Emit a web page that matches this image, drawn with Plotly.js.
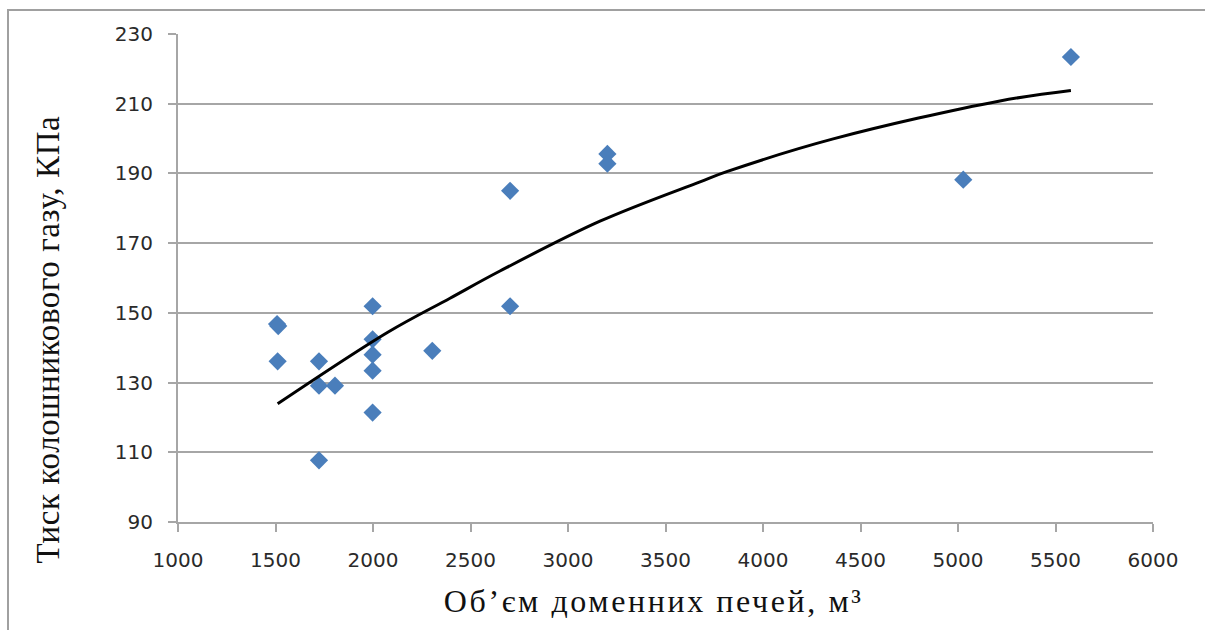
<!DOCTYPE html>
<html>
<head>
<meta charset="utf-8">
<script src="https://cdn.plot.ly/plotly-3.0.1.min.js"></script>
<style>
html,body{margin:0;padding:0;background:#fff;overflow:hidden;}
#frame{position:absolute;left:7px;top:9px;width:1400px;height:900px;border:2px solid #a0a0a0;}
#chart{position:absolute;left:0;top:0;width:1205px;height:630px;}
</style>
</head>
<body>
<div id="frame"></div>
<div id="chart"></div>
<script>
// Furnace volume, m3
const volume = [1508, 1514, 1511, 1723, 1723, 1723, 1805, 1998, 1998, 1998, 1998, 1998, 2304, 2703, 2703, 3202, 3202, 5027, 5579];
// Top gas pressure, kPa
const pressure = [146.8, 146.2, 136.1, 136.1, 129.1, 107.7, 129.1, 151.9, 142.4, 138.0, 133.4, 121.4, 139.1, 185.0, 151.9, 195.6, 192.8, 188.2, 223.4];

// Polynomial trendline
const trendX = [1511, 2078, 2395, 2651, 3164, 3677, 3814, 4360, 5215, 5579];
const trendY = [123.9, 144.5, 154.2, 162.0, 176.3, 187.6, 190.5, 199.9, 210.8, 213.8];

const xTicks = [1000, 1500, 2000, 2500, 3000, 3500, 4000, 4500, 5000, 5500, 6000];
const yTicks = [90, 110, 130, 150, 170, 190, 210, 230];

const xTitle = 'Об’єм доменних печей, м³';
const yTitle = 'Тиск колошникового газу, КПа';

const traces = [
  {x: volume, y: pressure, type: 'scatter', mode: 'markers',
   marker: {symbol: 'diamond', size: 14, color: '#4a7ebb', line: {width: 0}}, hoverinfo: 'x+y'},
  {x: trendX, y: trendY, type: 'scatter', mode: 'lines',
   line: {color: '#000', width: 3, shape: 'spline', smoothing: 1}, hoverinfo: 'skip'}
];

const L = 178, R = 52, T = 34, B = 108, W = 1205, H = 630;
const pw = W - L - R, ph = H - T - B;
const px2paperX = p => (p - L) / pw;
const px2paperY = p => (H - B - p) / ph;

const layout = {
  width: W, height: H,
  margin: {l: L, r: R, t: T, b: B, pad: 0},
  paper_bgcolor: 'rgba(0,0,0,0)', plot_bgcolor: 'rgba(0,0,0,0)',
  showlegend: false,
  xaxis: {
    range: [1000, 6000], tickvals: xTicks, ticktext: xTicks.map(String),
    showgrid: false, zeroline: false,
    showline: true, linecolor: '#a6a6a6', linewidth: 2,
    ticks: 'outside', ticklen: 8, tickwidth: 2, tickcolor: '#a6a6a6',
    tickfont: {family: 'DejaVu Sans', size: 20, color: '#2a2a2a'},
    ticklabelstandoff: 11
  },
  yaxis: {
    range: [90, 230], tickvals: yTicks, ticktext: yTicks.map(String),
    showgrid: true, gridcolor: '#a6a6a6', gridwidth: 2, zeroline: false,
    showline: true, linecolor: '#a6a6a6', linewidth: 2,
    ticks: 'outside', ticklen: 8, tickwidth: 2, tickcolor: '#a6a6a6',
    tickfont: {family: 'DejaVu Sans', size: 20, color: '#2a2a2a'},
    ticklabelstandoff: 11
  },
  annotations: [
    {text: xTitle, xref: 'paper', yref: 'paper', x: px2paperX(653), y: px2paperY(601),
     xanchor: 'center', yanchor: 'middle', showarrow: false,
     font: {family: 'Liberation Serif', size: 32, color: '#111'}},
    {text: yTitle, xref: 'paper', yref: 'paper', x: px2paperX(48), y: px2paperY(340),
     xanchor: 'center', yanchor: 'middle', showarrow: false, textangle: -90,
     font: {family: 'Liberation Serif', size: 33, color: '#111'}}
  ]
};

Plotly.newPlot('chart', traces, layout, {displayModeBar: false, staticPlot: true}).then(() => {
  const spacing = ['2.6px', '0.6px'];
  document.querySelectorAll('#chart g.annotation').forEach(g => {
    const idx = +g.getAttribute('data-index');
    g.querySelectorAll('text').forEach(t => {
      t.style.letterSpacing = spacing[idx];
      t.setAttribute('letter-spacing', spacing[idx]);
    });
  });
});
</script>
</body>
</html>
